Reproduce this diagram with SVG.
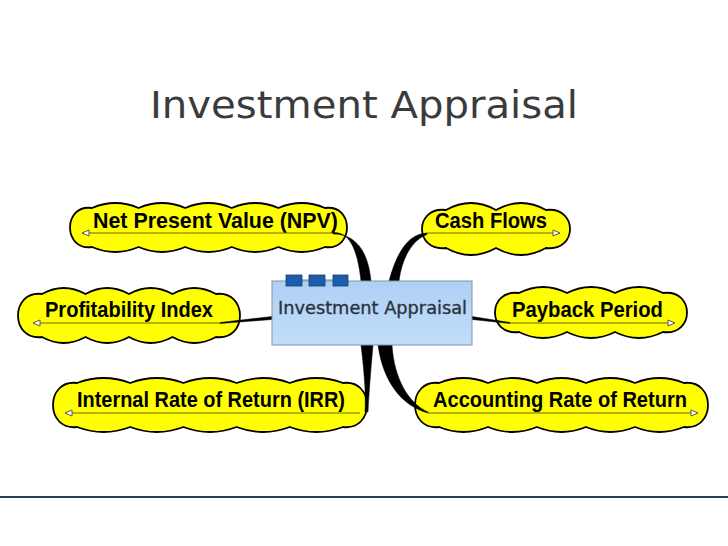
<svg xmlns="http://www.w3.org/2000/svg" width="728" height="546" viewBox="0 0 728 546">
<defs>
<linearGradient id="boxg" x1="0" y1="0" x2="0" y2="1">
<stop offset="0" stop-color="#aed0f5"/>
<stop offset="1" stop-color="#c2def9"/>
</linearGradient>
</defs>
<style>
.cloud{fill:#ffff00;stroke:#000;stroke-width:1.8;stroke-linejoin:round}
.lbl{font-family:"Liberation Sans",Arial,sans-serif;font-weight:bold;font-size:21.5px;fill:#000}
.ln{stroke:#6a6a00;stroke-width:1;fill:none}
.arr{fill:#fff;stroke:#555;stroke-width:1}
.con{fill:#000;stroke:#000;stroke-width:0.5}
</style>
<rect width="728" height="546" fill="#fff"/>
<text x="150" y="118" font-family="'DejaVu Sans',Verdana,sans-serif" font-size="37" fill="#3b3b3b" textLength="428" lengthAdjust="spacingAndGlyphs">Investment Appraisal</text>

<g id="npv">
<path class="cloud" d="M92,208 Q115.3,198 138.6,208 Q161.9,198 185.2,208 Q208.5,198 231.8,208 Q255.1,198 278.4,208 Q301.7,198 325,208 C354.3,204 354.3,251 325,247 Q301.7,257 278.4,247 Q255.1,257 231.8,247 Q208.5,257 185.2,247 Q161.9,257 138.6,247 Q115.3,257 92,247 C62.7,251 62.7,204 92,208 Z"/>
<text class="lbl" x="93" y="228" textLength="245" lengthAdjust="spacingAndGlyphs">Net Present Value (NPV)</text>
<line class="ln" x1="89" y1="233" x2="333" y2="233"/>
<polygon class="arr" points="82,233 89,230 89,236"/>
</g>

<g id="cashflows">
<path class="cloud" d="M446,210 Q471,196 496,210 Q521,196 546,210 C578,206 578,252 546,248 Q521,262 496,248 Q471,262 446,248 C414,252 414,206 446,210 Z"/>
<text class="lbl" x="435" y="228" textLength="112" lengthAdjust="spacingAndGlyphs">Cash Flows</text>
<line class="ln" x1="427" y1="233" x2="553" y2="233"/>
<polygon class="arr" points="560,233 553,230 553,236"/>
</g>

<g id="profitability">
<path class="cloud" d="M42,294 Q63.75,282 85.5,294 Q107.25,282 129,294 Q150.75,282 172.5,294 Q194.25,282 216,294 C248,290 248,341 216,337 Q194.25,349 172.5,337 Q150.75,349 129,337 Q107.25,349 85.5,337 Q63.75,349 42,337 C10,341 10,290 42,294 Z"/>
<text class="lbl" x="45" y="317" textLength="168" lengthAdjust="spacingAndGlyphs">Profitability Index</text>
<line class="ln" x1="40" y1="323" x2="220" y2="323"/>
<polygon class="arr" points="33,323 40,320 40,326"/>
</g>

<g id="payback">
<path class="cloud" d="M519,293 Q543,281 567,293 Q591,281 615,293 Q639,281 663,293 C695,289 695,336 663,332 Q639,344 615,332 Q591,344 567,332 Q543,344 519,332 C487,336 487,289 519,293 Z"/>
<text class="lbl" x="512" y="317" textLength="151" lengthAdjust="spacingAndGlyphs">Payback Period</text>
<line class="ln" x1="510" y1="323" x2="668" y2="323"/>
<polygon class="arr" points="675,323 668,320 668,326"/>
</g>

<g id="irr">
<path class="cloud" d="M77,383 Q103.6,373 130.2,383 Q156.8,373 183.4,383 Q210,373 236.6,383 Q263.2,373 289.8,383 Q316.4,373 343,383 C375,379 375,431 343,427 Q316.4,437 289.8,427 Q263.2,437 236.6,427 Q210,437 183.4,427 Q156.8,437 130.2,427 Q103.6,437 77,427 C45,431 45,379 77,383 Z"/>
<text class="lbl" x="77" y="407" textLength="268" lengthAdjust="spacingAndGlyphs">Internal Rate of Return (IRR)</text>
<line class="ln" x1="72" y1="413" x2="360" y2="413"/>
<polygon class="arr" points="65,413 72,410 72,416"/>
</g>

<g id="arr">
<path class="cloud" d="M439,383 Q463.5,373 488,383 Q512.5,373 537,383 Q561.5,373 586,383 Q610.5,373 635,383 Q659.5,373 684,383 C716,379 716,431 684,427 Q659.5,437 635,427 Q610.5,437 586,427 Q561.5,437 537,427 Q512.5,437 488,427 Q463.5,437 439,427 C407,431 407,379 439,383 Z"/>
<text class="lbl" x="433" y="407" textLength="254" lengthAdjust="spacingAndGlyphs">Accounting Rate of Return</text>
<line class="ln" x1="428" y1="413" x2="691" y2="413"/>
<polygon class="arr" points="698,413 691,410 691,416"/>
</g>

<g id="connectors">
<path class="con" d="M333,232.5 C348,232 357,245 361,281 L371,281 C368,250 355,234 333,234 Z"/>
<path class="con" d="M427,233 C410,234 398,248 389,281 L399,281 C402,258 412,240 427,234.5 Z"/>
<path class="con" d="M220,322.5 L272,316.5 L272,319.5 L220,323.5 Z"/>
<path class="con" d="M472,316.5 L510,322.5 L510,323.5 L472,319.5 Z"/>
<path class="con" d="M361,345 C364,370 366,392 365,412 L368,412 C369,392 371,368 373,345 Z"/>
<path class="con" d="M378,345 C383,382 402,406 428,413 L428,412 C408,403 394,378 392,345 Z"/>
</g>

<g id="center">
<rect x="272" y="281" width="200" height="64" fill="url(#boxg)" stroke="#7f95ad" stroke-width="1"/>
<line x1="294" y1="280" x2="340" y2="280" stroke="#6a7f99" stroke-width="1"/>
<rect x="286" y="275" width="16" height="11" fill="#1c5cab" stroke="#163f7a" stroke-width="0.8"/>
<rect x="309" y="275" width="16" height="11" fill="#1c5cab" stroke="#163f7a" stroke-width="0.8"/>
<rect x="333" y="275" width="15" height="11" fill="#1c5cab" stroke="#163f7a" stroke-width="0.8"/>
<text x="278" y="314" font-family="'DejaVu Sans',Verdana,sans-serif" font-size="17.5" fill="#2b3340" stroke="#2b3340" stroke-width="0.35" textLength="189" lengthAdjust="spacingAndGlyphs">Investment Appraisal</text>
</g>

<rect x="0" y="496" width="728" height="2" fill="#2a3f5a"/>
</svg>
